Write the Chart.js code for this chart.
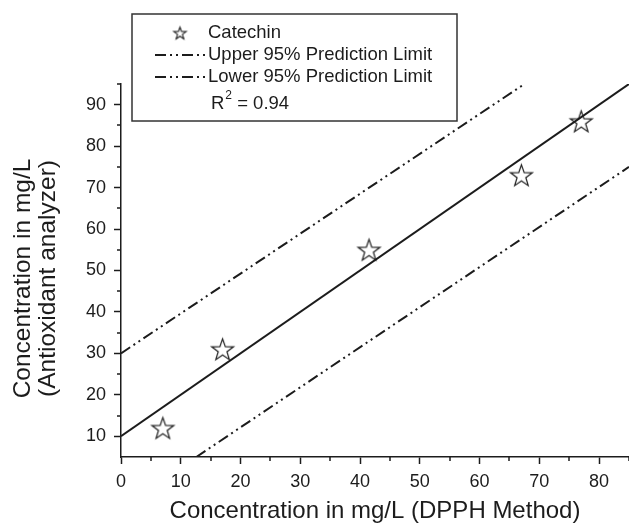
<!DOCTYPE html>
<html>
<head>
<meta charset="utf-8">
<script src="https://cdn.jsdelivr.net/npm/chart.js@4"></script>
<style>
  html, body { margin: 0; padding: 0; background: #fff; overflow: hidden; }
  canvas { display: block; }
</style>
</head>
<body>
<canvas id="chart" width="629" height="526"></canvas>
<script>
// Catechin, DPPH method vs antioxidant analyzer
const dpph = [7, 17, 41.5, 67, 77];
const analyzer = [12, 31, 55, 73, 86];

// straight lines: end points
const fitX = [0, 85];
const fitY = [10, 95];
const upperX = [0, 67.5];
const upperY = [30, 95];
const lowerX = [12.6, 85];
const lowerY = [5, 75];

const xTicks = [0, 10, 20, 30, 40, 50, 60, 70, 80];
const yTicks = [10, 20, 30, 40, 50, 60, 70, 80, 90];

const seriesLabels = ['Catechin', 'Upper 95% Prediction Limit', 'Lower 95% Prediction Limit'];
const rSquared = '0.94';

const xTitle = 'Concentration in mg/L (DPPH Method)';
const yTitle = ['Concentration in mg/L', '(Antioxidant analyzer)'];

const ink = '#1c1c1c';
const family = "'Liberation Sans', Arial, Helvetica, sans-serif";
const dashDotDot = [11, 4, 2, 4, 2, 4];

function pairs(xs, ys) {
    return xs.map((x, i) => ({ x: x, y: ys[i] }));
}

// open five-point star, centred on its bounding box
function makeStar(r, lw) {
    const size = Math.ceil(r * 2 + 4);
    const c = document.createElement('canvas');
    c.width = size;
    c.height = size;
    const g = c.getContext('2d');
    const cx = size / 2, cy = size / 2 + r * 0.095;
    g.beginPath();
    for (let i = 0; i < 10; i++) {
        const rad = i % 2 === 0 ? r : r * 0.4;
        const a = -Math.PI / 2 + i * Math.PI / 5;
        const px = cx + rad * Math.cos(a), py = cy + rad * Math.sin(a);
        if (i === 0) g.moveTo(px, py); else g.lineTo(px, py);
    }
    g.closePath();
    g.strokeStyle = ink;
    g.lineWidth = lw;
    g.stroke();
    return c;
}

const bigStar = makeStar(11.5, 1.2);
const smallStar = makeStar(6.5, 1.1);

// minor ticks every 5 units, shorter than the major ones
const minorTicks = {
    id: 'minorTicks',
    afterDraw(chart) {
        const g = chart.ctx;
        const { x, y } = chart.scales;
        g.save();
        g.strokeStyle = ink;
        g.lineWidth = 1.5;
        g.beginPath();
        for (let v = x.min + 5; v <= x.max; v += 10) {
            const px = Math.round(x.getPixelForValue(v));
            g.moveTo(px, x.top);
            g.lineTo(px, x.top + 4);
        }
        for (let v = y.min + 10; v <= y.max; v += 10) {
            const py = Math.round(y.getPixelForValue(v));
            g.moveTo(y.right, py);
            g.lineTo(y.right - 4, py);
        }
        g.stroke();
        g.restore();
    }
};

// two-line y title, sitting a little below the middle of the axis
const yAxisTitle = {
    id: 'yAxisTitle',
    afterDraw(chart, args, o) {
        const g = chart.ctx;
        const y = chart.scales.y;
        g.save();
        g.translate(y.left + o.x, (y.top + y.bottom) / 2 + o.shift);
        g.rotate(-Math.PI / 2);
        g.font = o.size + 'px ' + family;
        g.fillStyle = ink;
        g.textAlign = 'center';
        g.textBaseline = 'middle';
        yTitle.forEach((line, i) => g.fillText(line, 0, i * o.lineGap));
        g.restore();
    }
};

// boxed legend in the upper left corner
const boxLegend = {
    id: 'boxLegend',
    afterDraw(chart, args, o) {
        const g = chart.ctx;
        const ds = chart.data.datasets;
        g.save();
        g.strokeStyle = '#333';
        g.lineWidth = 1.5;
        g.strokeRect(o.left, o.top, o.width, o.height);

        g.font = '18.5px ' + family;
        g.fillStyle = ink;
        g.textBaseline = 'middle';

        g.drawImage(smallStar, o.symbolX - smallStar.width / 2, o.rows[0] - smallStar.height / 2);
        g.fillText(ds[0].label, o.textX, o.rows[0]);

        [2, 3].forEach((k, i) => {
            const yy = o.rows[i + 1];
            g.strokeStyle = ds[k].borderColor;
            g.lineWidth = ds[k].borderWidth;
            g.setLineDash(ds[k].borderDash);
            g.beginPath();
            g.moveTo(o.lineX0, yy);
            g.lineTo(o.lineX1, yy);
            g.stroke();
            g.setLineDash([]);
            g.fillText(ds[k].label, o.textX, yy);
        });

        // R² = 0.94
        let tx = o.rX;
        const ry = o.rows[3];
        g.fillText('R', tx, ry);
        tx += g.measureText('R').width;
        g.font = '12px ' + family;
        g.fillText('2', tx + 1, ry - 8);
        tx += g.measureText('2').width + 1;
        g.font = '18.5px ' + family;
        g.fillText(' = ' + rSquared, tx, ry);
        g.restore();
    }
};

const ctx = document.getElementById('chart').getContext('2d');

new Chart(ctx, {
    type: 'scatter',
    data: {
        datasets: [
            {
                label: seriesLabels[0],
                data: pairs(dpph, analyzer),
                pointStyle: bigStar,
                pointRadius: 11,
                showLine: false
            },
            {
                label: 'Linear fit',
                data: pairs(fitX, fitY),
                showLine: true,
                borderColor: ink,
                borderWidth: 2,
                pointRadius: 0
            },
            {
                label: seriesLabels[1],
                data: pairs(upperX, upperY),
                showLine: true,
                borderColor: ink,
                borderWidth: 2,
                borderDash: dashDotDot,
                pointRadius: 0
            },
            {
                label: seriesLabels[2],
                data: pairs(lowerX, lowerY),
                showLine: true,
                borderColor: ink,
                borderWidth: 2,
                borderDash: dashDotDot,
                pointRadius: 0
            }
        ]
    },
    options: {
        responsive: false,
        animation: false,
        devicePixelRatio: 1,
        layout: { autoPadding: false, padding: { top: 84, left: 0, right: 0, bottom: 0 } },
        plugins: {
            legend: { display: false },
            tooltip: { enabled: false },
            yAxisTitle: { x: 23, shift: 8, lineGap: 25, size: 24.5 },
            boxLegend: {
                left: 132, top: 14, width: 325, height: 107,
                rows: [33, 55, 77, 104],
                symbolX: 180, lineX0: 155, lineX1: 205, textX: 208, rX: 211
            }
        },
        scales: {
            x: {
                type: 'linear',
                min: 0,
                max: 85,
                afterBuildTicks: s => { s.ticks = xTicks.map(v => ({ value: v })); },
                afterFit: s => { s.height = 69; s.paddingRight = 0; },
                grid: { display: true, drawOnChartArea: false, drawTicks: true, tickLength: 7, tickColor: ink, tickWidth: 1.5 },
                border: { display: true, color: ink, width: 1.5 },
                ticks: { color: ink, font: { family: family, size: 18 }, padding: 7, maxRotation: 0 },
                title: { display: true, text: xTitle, color: ink, font: { family: family, size: 24 }, padding: { top: 0, bottom: 0 } }
            },
            y: {
                type: 'linear',
                min: 5,
                max: 95,
                afterBuildTicks: s => { s.ticks = yTicks.map(v => ({ value: v })); },
                afterFit: s => { s.width = 121; },
                grid: { display: true, drawOnChartArea: false, drawTicks: true, tickLength: 7, tickColor: ink, tickWidth: 1.5 },
                border: { display: true, color: ink, width: 1.5 },
                ticks: { color: ink, font: { family: family, size: 18 }, padding: 8 },
                title: { display: false }
            }
        }
    },
    plugins: [minorTicks, yAxisTitle, boxLegend]
});
</script>
</body>
</html>
